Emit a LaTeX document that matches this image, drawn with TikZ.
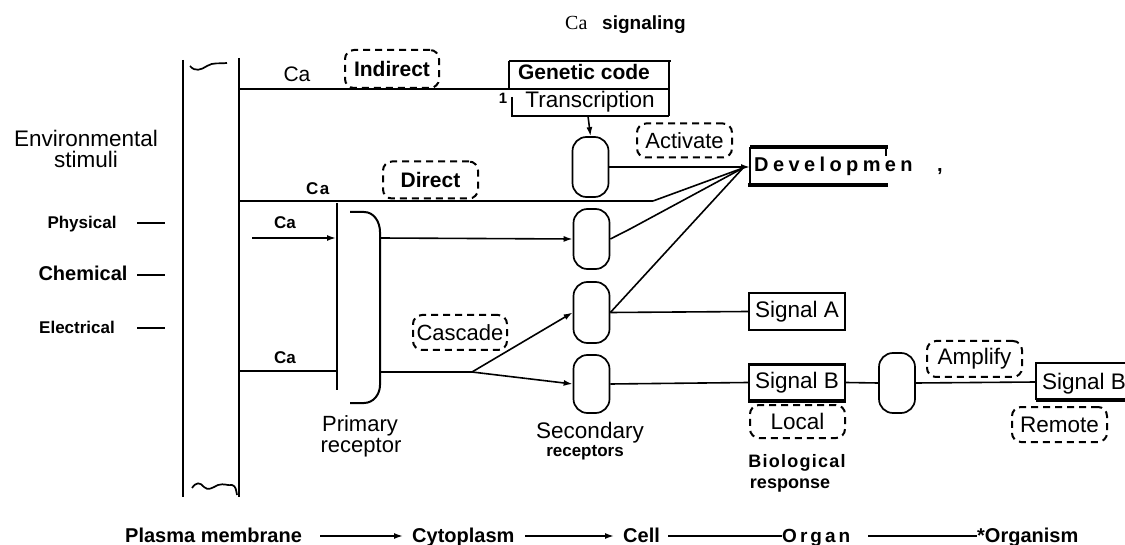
\documentclass[tikz,border=0pt]{standalone}
\usepackage{fontspec}
\setmainfont{Liberation Sans}
\newfontfamily\serifCa{Liberation Serif}
\newfontfamily\spacedA[LetterSpace=22]{Liberation Sans}
\newfontfamily\spacedB[LetterSpace=16]{Liberation Sans}
\newfontfamily\spacedD[LetterSpace=8]{Liberation Sans}
\newfontfamily\spacedC[LetterSpace=7]{Liberation Sans}
\usetikzlibrary{arrows.meta}
\begin{document}
\begin{tikzpicture}[x=1pt,y=-1pt,
  txt/.style={inner sep=0pt, anchor=base},
  txtw/.style={inner sep=0pt, anchor=base west},
  reg/.style={font=\fontsize{21}{24}\selectfont},
  bld/.style={font=\fontsize{20}{24}\selectfont\bfseries},
  sml/.style={font=\fontsize{17}{20}\selectfont\bfseries},
  dbox/.style={draw, dashed, dash pattern=on 7pt off 5pt, line width=2pt, rounded corners=9pt, inner sep=0pt},
  caps/.style={draw, line width=1.7pt, rounded corners=14pt, minimum width=36pt, inner sep=0pt},
  sbox/.style={draw, line width=1.7pt, inner sep=0pt, minimum width=96pt},
  memb/.style={line width=2.8pt},
  hl/.style={line width=2.4pt},
  conn/.style={line width=1.6pt},
  arr/.style={line width=1.6pt, -{Latex[length=9pt,width=6pt]}},
]
\useasboundingbox (0,0) rectangle (1125,545);

% title
\node[txtw, font=\fontsize{20}{24}\selectfont\serifCa] (tca) at (565,30) {Ca};
\node[txtw, font=\fontsize{19}{24}\selectfont\bfseries] (tsig) at (602,30) {signaling};

% membrane
\draw[memb] (183,60) -- (183,497);
\draw[memb] (239,58) -- (239,497);
\draw[line width=1.7pt] (190,66) .. controls (195,72) and (201,70) .. (207,66) .. controls (213,62) and (220,64) .. (227,63);
\draw[line width=1.7pt] (192,488) .. controls (196,482) and (200,482) .. (204,487) .. controls (208,491) and (212,488) .. (218,485) .. controls (224,483) and (228,486) .. (232,485) .. controls (236,486) and (236,490) .. (237,495);

% environmental stimuli
\node[txt, font=\fontsize{22.5}{24}\selectfont] (env1) at (86,147) {Environmental};
\node[txt, font=\fontsize{22.5}{24}\selectfont] (env2) at (86,168) {stimuli};
\node[txt, sml] (phys) at (82,229) {Physical};
\node[txt, bld] (chem) at (83,281) {Chemical};
\node[txt, sml] (elec) at (77,334) {Electrical};
\draw[line width=2.8pt] (137,223) -- (165,223);
\draw[line width=2.8pt] (137,275) -- (165,275);
\draw[line width=2.8pt] (137,328) -- (165,328);

% line 1: indirect to genetic code
\coordinate (m1) at (239,89);
\coordinate (g1) at (669,89);
\draw[hl] (m1) -- (g1);
\node[txt, font=\fontsize{21}{24}\selectfont] (ca1) at (297,82) {Ca};
\node[dbox, minimum width=94pt, minimum height=38pt, font=\fontsize{21}{24}\selectfont\bfseries] (indirect) at (392,69) {Indirect};
\draw[line width=2.8pt] (509,61) -- (671,61);
\draw[line width=2.4pt] (509,61) -- (509,89);
\draw[line width=2.4pt] (669,61) -- (669,116);
\draw[line width=2.4pt] (512,97) -- (512,116) -- (669,116);
\node[txt, font=\fontsize{21}{24}\selectfont\bfseries] (gen) at (584,80) {Genetic code};
\node[txt, font=\fontsize{22.5}{24}\selectfont] (trans) at (590,108) {Transcription};
\node[txt, font=\fontsize{15}{18}\selectfont\bfseries] (one) at (503,104) {1};
\coordinate (trb) at (588,116);

% capsules
\node[caps, minimum height=60pt] (c1) at (590.5,167) {};
\node[caps, minimum height=60pt] (c2) at (591.5,239) {};
\node[caps, minimum height=61pt] (c3) at (591.5,312.5) {};
\node[caps, minimum height=58pt] (c4) at (591.5,384) {};
\node[caps, minimum height=60pt] (c5) at (897,383) {};
\draw[arr] (trb) -- (c1.north);

% development
\coordinate (devw) at (750,167);
\coordinate (conv) at (743,168);
\draw[line width=3.2pt] (750,147) -- (888,147);
\draw[line width=3.2pt] (748,185) -- (888,185);
\draw[line width=1.7pt] (750,147) -- (750,185);
\draw[line width=1.7pt] (886,147) -- (886,156);
\node[txtw, font=\fontsize{20}{24}\selectfont\spacedA\bfseries] (dev) at (754,172) {Developmen};
\node[txtw, font=\fontsize{20}{24}\selectfont\bfseries] (comma) at (937,172) {,};
\node[dbox, minimum width=95pt, minimum height=34pt, font=\fontsize{22}{24}\selectfont] (activate) at (684.5,140.5) {Activate};
\draw[arr] (c1.east) -- (devw);

% line 2: direct
\coordinate (m2) at (239,201);
\coordinate (k2) at (653,201);
\draw[hl] (m2) -- (k2);
\draw[conn] (k2) -- (conv);
\node[txtw, font=\fontsize{17}{20}\selectfont\spacedD\bfseries] (ca2) at (306,195) {Ca};
\node[dbox, minimum width=95pt, minimum height=37pt, font=\fontsize{21}{24}\selectfont\bfseries] (direct) at (430.5,180) {Direct};

% primary receptor
\draw[memb] (337,203) -- (337,390);
\draw[line width=2pt] (350,212) -- (364,212) to[out=0,in=90] (380,232) -- (380,385) to[out=-90,in=0] (364,403) -- (350,403);
\coordinate (pr1) at (380,238);
\coordinate (pr2) at (380,372);
\coordinate (cain) at (252,238);
\coordinate (prl) at (336,238);
\draw[arr] (cain) -- (prl);
\node[txt, sml] (ca3) at (285,229) {Ca};
\draw[arr] (pr1) -- (c2.west);
\node[txt, font=\fontsize{22}{24}\selectfont] (prim1) at (360,431) {Primary};
\node[txt, font=\fontsize{22}{24}\selectfont] (prim2) at (361,452) {receptor};

% line 3
\coordinate (m3) at (239,371);
\coordinate (m3r) at (337,371);
\draw[hl] (m3) -- (m3r);
\node[txt, sml] (ca4) at (285,363) {Ca};
\coordinate (br) at (472,372);
\draw[hl] (pr2) -- (br);
\draw[arr] (br) -- (c3.west);
\draw[arr] (br) -- (c4.west);
\node[dbox, minimum width=94pt, minimum height=35pt, font=\fontsize{22}{24}\selectfont] (cascade) at (460,332.5) {Cascade};

% secondary outputs
\coordinate (c2k) at (630,229);
\draw[conn] (c2.east) -- (c2k) -- (conv);
\draw[conn] (c3.east) -- (conv);
\node[sbox, minimum height=37pt, font=\fontsize{22.5}{24}\selectfont] (sa) at (797,311.5) {Signal A};
\draw[conn] (c3.east) -- (sa.west);
\node[sbox, minimum height=35pt, font=\fontsize{22.5}{24}\selectfont] (sb) at (797,382.5) {Signal B};
\draw[line width=3.2pt] (sb.north west) -- (sb.north east);
\draw[line width=3.8pt] (sb.south west) -- (sb.south east);
\draw[conn] (c4.east) -- (sb.west);
\draw[conn] (sb.east) -- (c5.west);
\node[dbox, minimum width=95pt, minimum height=33pt, font=\fontsize{22.5}{24}\selectfont] (local) at (797.5,421.5) {Local};
\node[txt, font=\fontsize{18}{20}\selectfont\spacedC\bfseries] (bio1) at (797,467) {Biological};
\node[txt, font=\fontsize{18}{20}\selectfont\bfseries] (bio2) at (790,488) {response};
\node[txt, font=\fontsize{22.5}{24}\selectfont] (sec1) at (590,438) {Secondary};
\node[txt, sml] (sec2) at (585,456) {receptors};

% remote signal
\coordinate (sb2w) at (1036,382);
\draw[conn] (c5.east) -- (sb2w);
\draw[line width=1.9pt] (1125,363) -- (1036,363) -- (1036,400);
\draw[line width=3.8pt] (1036,400) -- (1125,400);
\node[txtw, font=\fontsize{22.5}{24}\selectfont] (sb2) at (1042,389) {Signal B};
\node[dbox, minimum width=95pt, minimum height=36pt, font=\fontsize{22.5}{24}\selectfont] (amplify) at (974.5,359) {Amplify};
\node[dbox, minimum width=95pt, minimum height=35pt, font=\fontsize{22.5}{24}\selectfont] (remote) at (1059.5,424.5) {Remote};

% bottom row
\node[txtw, bld] (pm) at (125,542) {Plasma membrane};
\node[txtw, bld] (cyto) at (412,542) {Cytoplasm};
\node[txtw, bld] (cell) at (623,542) {Cell};
\node[txtw, font=\fontsize{19}{24}\selectfont\spacedB\bfseries] (organ) at (782,542) {Organ};
\node[txtw, bld] (orgm) at (977,542) {*Organism};
\coordinate (a1s) at (320,536);
\coordinate (a1e) at (403,536);
\coordinate (a2s) at (525,536);
\coordinate (a2e) at (614,536);
\coordinate (l1s) at (668,536);
\coordinate (l2s) at (868,536);
\draw[arr] (a1s) -- (a1e);
\draw[arr] (a2s) -- (a2e);
\draw[line width=2.6pt] (l1s) -- (organ.west |- l1s);
\draw[line width=2.6pt] (l2s) -- (orgm.west |- l2s);
\end{tikzpicture}
\end{document}
